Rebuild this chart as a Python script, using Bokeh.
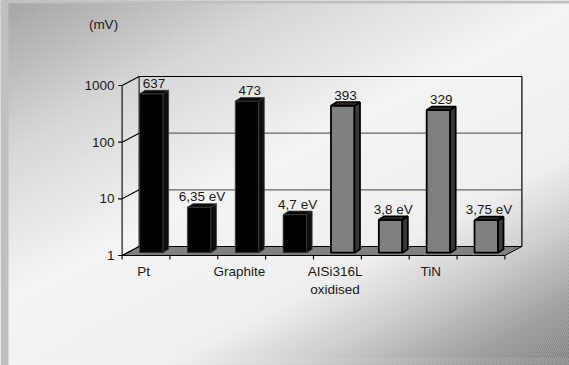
import numpy as np
from bokeh.plotting import figure
from bokeh.models import Range1d, LinearScale, LogScale
from bokeh.core.properties import value
from bokeh.embed import file_html
from bokeh.resources import INLINE

# ---- data -------------------------------------------------------------
materials = ["Pt", "Graphite", "AISi316L", "TiN"]
material_notes = ["", "", "oxidised", ""]
potential_mv = [637, 473, 393, 329]
work_function_ev = [6.35, 4.7, 3.8, 3.75]
material_colors = ["black", "black", "gray", "gray"]
y_ticks = [1, 10, 100, 1000]
y_tick_labels = ["1", "10", "100", "1000"]
unit_label = "(mV)"

# ---- page geometry ----------------------------------------------------
W, H = 569, 365
AX_X = 121.6      # screen x of slot 0 on the front plane
SLOT = 47.85      # pixels per slot
BASE_Y = 255.0    # screen y of value 1 on the front plane
DECADE = 56.67    # pixels per decade
FONT = value("Liberation Sans")
FSIZE = "13.5px"


def dcat(px):
    """horizontal pixel shift expressed in category units"""
    return px / SLOT


def up(px):
    """upward pixel shift expressed as a factor on the log scale"""
    return 10 ** (px / DECADE)


# oblique depth of the plot box, of the bars and the bars' position in it
WALL_DX, WALL_DY = 17.0, 9.0
BAR_DX, BAR_DY = 5.3, 2.8
DEPTH_DX, DEPTH_DY = 5.5, 3.5
BAR_W = 23.5

p = figure(width=W, height=H, output_backend="svg", toolbar_location=None,
           x_range=Range1d(0, W), y_range=Range1d(H, 0),
           x_axis_location=None, y_axis_location=None, min_border=0)
p.outline_line_color = None
p.grid.visible = False
p.background_fill_color = "#f0f0f0"
p.border_fill_color = "#c0c0c0"

p.extra_x_ranges = {"cat": Range1d((0 - AX_X) / SLOT, (W - AX_X) / SLOT)}
p.extra_x_scales = {"cat": LinearScale()}
p.extra_y_ranges = {"val": Range1d(10 ** ((BASE_Y - H) / DECADE), 10 ** (BASE_Y / DECADE))}
p.extra_y_scales = {"val": LogScale()}
C = dict(x_range_name="cat", y_range_name="val")

# ---- diagonal gradient backdrop ----------------------------------------
t_stops = [0, 60, 150, 300, 450, 520, 600, 665]
g_stops = [0x9c, 0xb0, 0xd2, 0xf3, 0xee, 0xca, 0x98, 0x7c]
SLOPE = 0.52
step = 3
xs, ys, cols = [], [], []
for t in range(0, 680, step):
    g = int(round(np.interp(t + step / 2, t_stops, g_stops)))
    xs.append([0, W, W, 0])
    ys.append([t - 0.5, t - 0.5 - SLOPE * W, t + step + 0.5 - SLOPE * W, t + step + 0.5])
    cols.append("#%02x%02x%02x" % (g, g, g))
p.patches(xs, ys, fill_color=cols, line_color=None)
# fine diagonal texture
p.quad(left=[0], right=[W], top=[0], bottom=[H], fill_alpha=0, line_color=None,
       hatch_pattern="/", hatch_color="white", hatch_alpha=0.18, hatch_scale=4, hatch_weight=1)
# frame strips
p.quad(left=[0], right=[8], top=[0], bottom=[H], fill_color="#c0c0c0", line_color=None)
p.quad(left=[0], right=[W], top=[0], bottom=[3], fill_color="#c0c0c0", line_color=None)
p.quad(left=[8], right=[W], top=[357], bottom=[H], fill_color="white", fill_alpha=0.08, line_color=None)

# ---- plot box ----------------------------------------------------------
n_slots = 2 * len(materials)
wx = dcat(WALL_DX)
wf = up(WALL_DY)
vmin, vmax = y_ticks[0], y_ticks[-1]

# floor
p.patch([0, n_slots, n_slots + wx, wx], [vmin, vmin, vmin * wf, vmin * wf],
        fill_color="#808080", line_color="black", line_width=1, **C)
# back wall gridlines
for v in y_ticks[1:-1]:
    p.line([wx, n_slots + wx], [v * wf, v * wf], line_color="#666666", line_width=1.3, **C)
# back wall edges
p.line([wx, n_slots + wx, n_slots + wx], [vmax * wf, vmax * wf, vmin * wf],
       line_color="black", line_width=1.2, **C)
p.line([wx, wx], [vmin * wf, vmax * wf], line_color="black", line_width=1, **C)
# side wall lines
for v in y_ticks:
    p.line([0, wx], [v, v * wf], line_color="black", line_width=1.1, **C)
# front value axis and ticks
p.line([0, 0], [vmin, vmax], line_color="black", line_width=1.1, **C)
for v in y_ticks:
    p.line([dcat(-4), 0], [v, v], line_color="black", line_width=1.1, **C)
p.text(x=[dcat(-7.5)] * len(y_ticks), y=y_ticks, text=y_tick_labels,
       text_align="right", text_baseline="middle", text_font=FONT,
       text_font_size=FSIZE, text_color="#1a1a1a", **C)
p.text(x=[dcat(103 - AX_X)], y=[10 ** ((BASE_Y - 24) / DECADE)], text=[unit_label],
       text_align="center", text_baseline="middle", text_font=FONT,
       text_font_size=FSIZE, text_color="#1a1a1a", **C)
# front category axis ticks
for k in range(n_slots + 1):
    p.line([k, k], [vmin, vmin / up(4)], line_color="black", line_width=1.1, **C)

# ---- bars --------------------------------------------------------------
slot_vals, slot_text, slot_kind = [], [], []
for mv, ev, kind in zip(potential_mv, work_function_ev, material_colors):
    slot_vals += [mv, ev]
    slot_text += [str(mv), ("%g" % ev).replace(".", ",") + " eV"]
    slot_kind += [kind, kind]

shade = {
    "black": dict(front="#000000", side="#0d0d0d", top="#080808", line="#3a3a3a", lw=0.8),
    "gray": dict(front="#808080", side="#3a3a3a", top="#2c2c2c", line="#000000", lw=1.8),
}

bx = dcat(BAR_DX)
bf = up(BAR_DY)
dx = dcat(DEPTH_DX)
df = up(DEPTH_DY)
hw = dcat(BAR_W) / 2
for i, (v, kind) in enumerate(zip(slot_vals, slot_kind)):
    s = shade[kind]
    xc = i + 0.5 + bx
    L, R = xc - hw, xc + hw
    B, T = vmin * bf, v * bf
    p.patch([L, R, R, L], [B, B, T, T], fill_color=s["front"],
            line_color=s["line"], line_width=s["lw"], **C)
    p.patch([R, R + dx, R + dx, R], [B, B * df, T * df, T], fill_color=s["side"],
            line_color=s["line"], line_width=s["lw"], **C)
    p.patch([L, R, R + dx, L + dx], [T, T, T * df, T * df], fill_color=s["top"],
            line_color=s["line"], line_width=s["lw"], **C)

# value labels above the bars
lab_x = [i + 0.5 + bx + dx / 2 for i in range(n_slots)]
lab_y = [v * bf * df * up(7) for v in slot_vals]
p.text(x=lab_x, y=lab_y, text=slot_text, text_align="center", text_baseline="middle",
       text_font=FONT, text_font_size=FSIZE, text_color="#1a1a1a", **C)

# category labels under the odd slots
cat_x = [2 * i + 0.5 - 0.05 for i in range(len(materials))]
p.text(x=cat_x, y=[vmin / up(16)] * len(materials), text=materials,
       text_align="center", text_baseline="middle", text_font=FONT,
       text_font_size=FSIZE, text_color="#1a1a1a", **C)
p.text(x=cat_x, y=[vmin / up(34)] * len(materials), text=material_notes,
       text_align="center", text_baseline="middle", text_font=FONT,
       text_font_size=FSIZE, text_color="#1a1a1a", **C)

open("out.html", "w").write(file_html(p, INLINE))
